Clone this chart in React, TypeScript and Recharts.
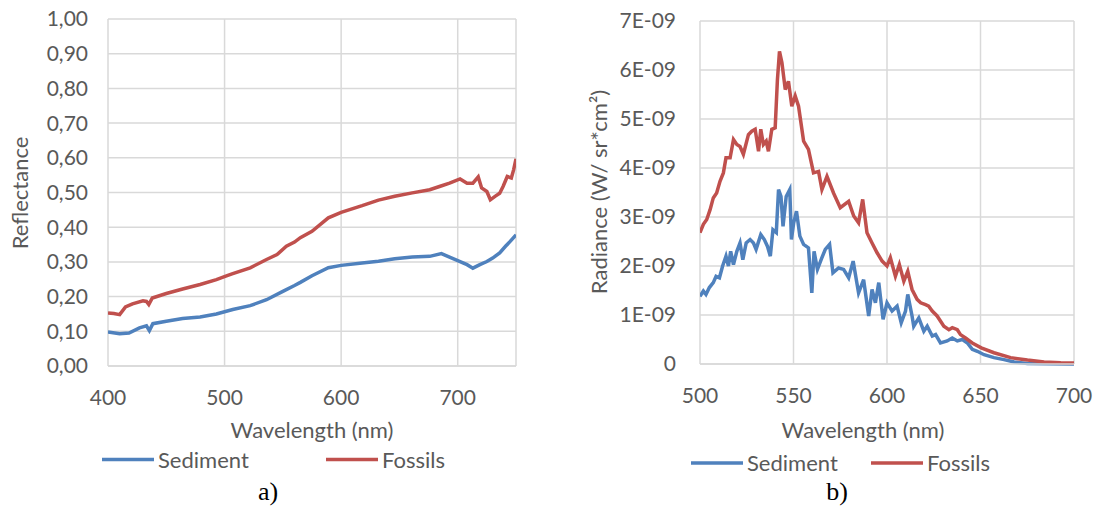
import React from "react";
import { LineChart, Line, XAxis, YAxis, CartesianGrid } from "recharts";

const SEDIMENT = "#4f81bd";
const FOSSILS = "#c0504d";
const GRID = "#d9d9d9";
const TEXT = "#595959";
const FONT = "Lato, 'Open Sans', sans-serif";

// a) reflectance spectra
const aSedimentWl = [400, 410, 418, 427, 433, 435.5, 438.5, 450, 464, 479, 493, 507, 522, 536, 550, 560, 565, 575, 589, 600, 618, 632, 646, 661, 676, 686, 693, 702, 708, 713, 719, 725, 730, 736, 741, 745, 750];
const aSedimentVal = [0.098, 0.093, 0.095, 0.11, 0.116, 0.102, 0.122, 0.129, 0.137, 0.141, 0.15, 0.163, 0.174, 0.191, 0.215, 0.232, 0.241, 0.26, 0.283, 0.29, 0.297, 0.302, 0.309, 0.314, 0.316, 0.324, 0.314, 0.301, 0.292, 0.282, 0.292, 0.301, 0.311, 0.326, 0.345, 0.359, 0.378];
const aFossilsWl = [400, 405, 410, 415, 421, 430, 433, 435, 438, 450, 464, 479, 493, 501, 507, 522, 536, 545, 553, 560, 565, 575, 589, 600, 618, 632, 646, 661, 676, 685, 693, 702, 708, 713, 717.6, 720.5, 725, 728, 732, 736, 739, 742.5, 746, 748, 750];
const aFossilsVal = [0.153, 0.151, 0.148, 0.17, 0.179, 0.188, 0.186, 0.177, 0.196, 0.209, 0.222, 0.235, 0.249, 0.259, 0.266, 0.283, 0.307, 0.321, 0.345, 0.357, 0.37, 0.388, 0.427, 0.443, 0.462, 0.478, 0.489, 0.499, 0.508, 0.518, 0.527, 0.539, 0.527, 0.527, 0.545, 0.513, 0.503, 0.479, 0.489, 0.498, 0.518, 0.546, 0.542, 0.566, 0.597];
const aXTicks = [400, 500, 600, 700];
const aYTicks = [0, 0.1, 0.2, 0.3, 0.4, 0.5, 0.6, 0.7, 0.8, 0.9, 1];

// b) radiance spectra, values read in units of 1E-09 W/(sr*cm2)
const bSedimentWl = [500, 501.8, 503.2, 505, 507.1, 508.6, 510.4, 512.1, 513.9, 515.2, 516.4, 517.9, 519.7, 521.4, 522.9, 524.7, 526.8, 528.6, 530, 532.5, 534.4, 536.1, 537.6, 539, 540.8, 542, 543.3, 544.4, 546.1, 548, 548.9, 550.1, 551.6, 553.4, 555.4, 558, 559.8, 561, 562.8, 565.2, 567, 569.3, 571.1, 574.1, 576.8, 579.5, 581.9, 584.8, 587.5, 590.2, 592, 593.8, 595.6, 597.9, 600, 602.7, 605.4, 607.6, 609.9, 611.1, 613.4, 614.3, 617, 619.7, 621.5, 624.2, 626, 628.6, 632.2, 634.9, 637.6, 640.3, 643, 645.6, 648.3, 651.9, 657.2, 662.6, 668, 675.1, 700];
const bSedimentVal = [1.38, 1.49, 1.42, 1.56, 1.66, 1.79, 1.76, 2.0, 2.2, 2.0, 2.3, 2.03, 2.3, 2.47, 2.13, 2.47, 2.54, 2.47, 2.34, 2.64, 2.54, 2.4, 2.2, 2.74, 2.68, 3.56, 3.42, 2.81, 3.42, 3.56, 2.54, 2.88, 3.12, 2.61, 2.44, 2.37, 1.45, 2.3, 1.93, 2.17, 2.34, 2.44, 1.86, 1.96, 1.93, 1.76, 2.1, 1.45, 1.72, 0.98, 1.52, 1.25, 1.66, 0.91, 1.25, 1.08, 1.18, 0.84, 1.08, 1.42, 0.98, 0.77, 0.94, 0.67, 0.77, 0.57, 0.6, 0.43, 0.47, 0.53, 0.47, 0.5, 0.43, 0.3, 0.26, 0.19, 0.13, 0.09, 0.04, 0.01, 0.0];
const bFossilsWl = [500, 501.8, 503.6, 505.4, 507.1, 508.9, 510.7, 512.5, 513.9, 516.1, 517.9, 519.7, 521.4, 523.2, 525.9, 527.7, 529.5, 531.3, 532.5, 533.9, 535.4, 536.6, 538.4, 540.2, 541.4, 542.5, 543.8, 545.6, 547.3, 549.1, 550.9, 552.7, 555.4, 558, 560.7, 563.4, 565.2, 567.9, 571.4, 575, 579.5, 582.2, 584.8, 587, 589.3, 592, 594.7, 597.4, 600, 601.8, 604.5, 606.6, 609, 611.1, 613.4, 616.1, 618, 620.6, 622.3, 624.2, 626.8, 630.4, 633.1, 634.9, 637.6, 639.3, 642, 645.6, 650.4, 657.2, 666.1, 675.1, 684, 692.9, 700];
const bFossilsVal = [2.68, 2.85, 2.95, 3.15, 3.39, 3.49, 3.73, 3.9, 4.21, 4.21, 4.58, 4.48, 4.44, 4.28, 4.68, 4.75, 4.79, 4.34, 4.79, 4.48, 4.55, 4.34, 4.79, 4.82, 5.8, 6.38, 6.15, 5.6, 5.77, 5.26, 5.47, 5.26, 4.55, 4.38, 3.9, 3.93, 3.56, 3.83, 3.49, 3.19, 3.32, 3.02, 2.88, 3.36, 2.68, 2.47, 2.27, 2.1, 2.0, 2.17, 1.79, 2.03, 1.69, 1.89, 1.52, 1.32, 1.25, 1.21, 1.18, 1.08, 0.98, 0.77, 0.7, 0.74, 0.7, 0.6, 0.53, 0.43, 0.33, 0.23, 0.13, 0.08, 0.04, 0.025, 0.02];
const bXTicks = [500, 550, 600, 650, 700];
const bYTicks = [0, 1e-9, 2e-9, 3e-9, 4e-9, 5e-9, 6e-9, 7e-9];

const points = (wl: number[], val: number[], unit = 1) =>
  wl.map((w, i) => ({ wl: w, v: val[i] * unit }));

const fmtComma = (v: number) => v.toFixed(2).replace(".", ",");
const fmtExp = (v: number) => {
  if (v === 0) return "0";
  const [m, e] = v.toExponential(0).split("e");
  const n = Math.abs(Number(e));
  return `${m}E${Number(e) < 0 ? "-" : "+"}${String(n).padStart(2, "0")}`;
};

const tickStyle = { fill: TEXT, fontSize: 21, fontFamily: FONT };

function Legend({ x1, x2, y }: { x1: number; x2: number; y: number }) {
  return (
    <g fontSize={22} fill={TEXT}>
      <line x1={x1} x2={x1 + 52} y1={y} y2={y} stroke={SEDIMENT} strokeWidth={3.5} />
      <text x={x1 + 56} y={y + 8}>Sediment</text>
      <line x1={x2} x2={x2 + 52} y1={y} y2={y} stroke={FOSSILS} strokeWidth={3.5} />
      <text x={x2 + 56} y={y + 8}>Fossils</text>
    </g>
  );
}

export default function App() {
  return (
    <div
      style={{
        position: "absolute",
        left: 0,
        top: 0,
        width: 1098,
        height: 508,
        background: "#fff",
        overflow: "hidden",
        fontFamily: FONT,
      }}
    >
      <div style={{ position: "absolute", left: 0, top: 0 }}>
        <LineChart width={540} height={420} margin={{ top: 19, right: 24, bottom: 0, left: 0 }}>
          <CartesianGrid stroke={GRID} strokeWidth={1.5} />
          <XAxis
            type="number"
            dataKey="wl"
            domain={[400, 750]}
            ticks={aXTicks}
            height={54}
            tickLine={false}
            tickSize={0}
            tickMargin={24}
            axisLine={{ stroke: GRID, strokeWidth: 1.5 }}
            tick={tickStyle}
            allowDataOverflow
          />
          <YAxis
            type="number"
            domain={[0, 1]}
            ticks={aYTicks}
            width={108}
            axisLine={false}
            tickLine={false}
            tickSize={0}
            tickMargin={20}
            tick={tickStyle}
            tickFormatter={fmtComma}
          />
          <Line data={points(aSedimentWl, aSedimentVal)} dataKey="v" name="Sediment" stroke={SEDIMENT} strokeWidth={3.5} dot={false} type="linear" isAnimationActive={false} />
          <Line data={points(aFossilsWl, aFossilsVal)} dataKey="v" name="Fossils" stroke={FOSSILS} strokeWidth={3.5} dot={false} type="linear" isAnimationActive={false} />
        </LineChart>
      </div>

      <div style={{ position: "absolute", left: 560, top: 0 }}>
        <LineChart width={540} height={420} margin={{ top: 21, right: 26, bottom: 0, left: 0 }}>
          <CartesianGrid stroke={GRID} strokeWidth={1.5} />
          <XAxis
            type="number"
            dataKey="wl"
            domain={[500, 700]}
            ticks={bXTicks}
            height={56}
            tickLine={false}
            tickSize={0}
            tickMargin={24}
            axisLine={{ stroke: GRID, strokeWidth: 1.5 }}
            tick={tickStyle}
            allowDataOverflow
          />
          <YAxis
            type="number"
            domain={[0, 7e-9]}
            ticks={bYTicks}
            width={140}
            axisLine={false}
            tickLine={false}
            tickSize={0}
            tickMargin={24}
            tick={tickStyle}
            tickFormatter={fmtExp}
          />
          <Line data={points(bSedimentWl, bSedimentVal, 1e-9)} dataKey="v" name="Sediment" stroke={SEDIMENT} strokeWidth={3.5} dot={false} type="linear" isAnimationActive={false} />
          <Line data={points(bFossilsWl, bFossilsVal, 1e-9)} dataKey="v" name="Fossils" stroke={FOSSILS} strokeWidth={3.5} dot={false} type="linear" isAnimationActive={false} />
        </LineChart>
      </div>

      {/* axis titles, legends and captions */}
      <svg width={1098} height={508} style={{ position: "absolute", left: 0, top: 0, pointerEvents: "none" }}>
        <g fill={TEXT} fontSize={22} textAnchor="middle">
          <text x={312} y={438}>Wavelength (nm)</text>
          <text x={27.5} y={193} transform="rotate(-90 27.5 193)">Reflectance</text>
          <text x={863} y={438}>Wavelength (nm)</text>
          <text x={607} y={192} transform="rotate(-90 607 192)">Radiance (W/ sr*cm²)</text>
        </g>
        <Legend x1={102} x2={326} y={459.5} />
        <Legend x1={691} x2={871} y={463} />
        <g fontFamily="'Liberation Serif', 'Times New Roman', serif" fontSize={26} fill="#000" textAnchor="middle">
          <text x={268} y={500}>a)</text>
          <text x={837} y={500}>b)</text>
        </g>
      </svg>
    </div>
  );
}
